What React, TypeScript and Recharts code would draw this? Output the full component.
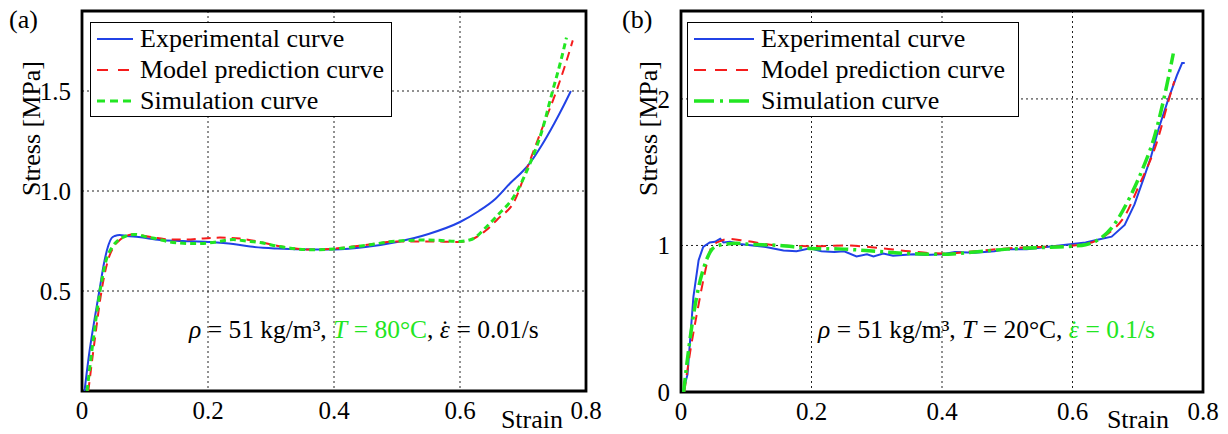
import { LineChart, Line, XAxis, YAxis, CartesianGrid, ReferenceArea, Legend } from 'recharts';

const FONT = "'Liberation Serif', 'Times New Roman', serif";
const BLUE = '#2142e6';
const RED = '#f51c1c';
const GREEN = '#22e622';

const STRAIN_TICKS = [0, 0.2, 0.4, 0.6, 0.8];
const A_STRESS_TICKS = [0.5, 1.0, 1.5];
const B_STRESS_TICKS = [0, 1, 2];

// (a) T = 80°C, 0.01/s
const A_EXP_X = [0.004, 0.012, 0.02, 0.0275, 0.035, 0.042, 0.047, 0.052, 0.06, 0.071, 0.09, 0.124, 0.16, 0.2, 0.24, 0.267, 0.31, 0.367, 0.4, 0.45, 0.5, 0.55, 0.6, 0.63, 0.656, 0.68, 0.7, 0.711, 0.73, 0.75, 0.765, 0.776];
const A_EXP_Y = [0, 0.2, 0.36, 0.5, 0.64, 0.73, 0.765, 0.775, 0.78, 0.775, 0.77, 0.755, 0.75, 0.745, 0.735, 0.722, 0.712, 0.707, 0.708, 0.72, 0.745, 0.785, 0.845, 0.9, 0.96, 1.04, 1.1, 1.14, 1.23, 1.34, 1.43, 1.5];

const A_MOD_X = [0.01, 0.02, 0.031, 0.04, 0.05, 0.06, 0.07, 0.084, 0.1, 0.12, 0.14, 0.166, 0.193, 0.219, 0.251, 0.283, 0.314, 0.367, 0.4, 0.45, 0.5, 0.55, 0.6, 0.62, 0.64, 0.66, 0.687, 0.706, 0.73, 0.753, 0.766, 0.779];
const A_MOD_Y = [0, 0.25, 0.5, 0.64, 0.72, 0.755, 0.775, 0.785, 0.775, 0.765, 0.757, 0.757, 0.763, 0.767, 0.762, 0.745, 0.724, 0.707, 0.712, 0.73, 0.748, 0.748, 0.745, 0.76, 0.8, 0.86, 0.953, 1.11, 1.31, 1.5, 1.62, 1.753];

const A_SIM_X = [0.008, 0.018, 0.0286, 0.038, 0.048, 0.058, 0.07, 0.084, 0.1, 0.12, 0.14, 0.176, 0.2, 0.24, 0.261, 0.283, 0.314, 0.367, 0.4, 0.45, 0.5, 0.55, 0.6, 0.62, 0.64, 0.66, 0.685, 0.711, 0.73, 0.747, 0.76, 0.769];
const A_SIM_Y = [0, 0.26, 0.5, 0.65, 0.72, 0.755, 0.775, 0.783, 0.772, 0.76, 0.745, 0.737, 0.74, 0.757, 0.75, 0.742, 0.722, 0.706, 0.71, 0.728, 0.75, 0.755, 0.748, 0.76, 0.815, 0.88, 0.97, 1.137, 1.3, 1.5, 1.65, 1.767];

// (b) T = 20°C, 0.1/s
const B_EXP_X = [0.003, 0.01, 0.019, 0.027, 0.034, 0.044, 0.052, 0.06, 0.065, 0.075, 0.09, 0.11, 0.13, 0.157, 0.177, 0.198, 0.215, 0.235, 0.25, 0.269, 0.285, 0.295, 0.31, 0.325, 0.34, 0.356, 0.375, 0.4, 0.42, 0.45, 0.48, 0.5, 0.53, 0.56, 0.6, 0.62, 0.64, 0.66, 0.68, 0.695, 0.71, 0.72, 0.7315, 0.747, 0.76, 0.768, 0.772];
const B_EXP_Y = [0, 0.12, 0.65, 0.9, 0.99, 1.02, 1.025, 1.045, 1.02, 1.025, 1.01, 1.0, 0.99, 0.965, 0.96, 0.98, 0.96, 0.955, 0.96, 0.925, 0.94, 0.925, 0.945, 0.93, 0.935, 0.94, 0.935, 0.94, 0.955, 0.95, 0.96, 0.975, 0.975, 0.99, 1.01, 1.02, 1.04, 1.06, 1.14, 1.28, 1.47, 1.6, 1.79, 2.0, 2.16, 2.245, 2.245];

const B_MOD_X = [0.005, 0.015, 0.025, 0.035, 0.047, 0.06, 0.075, 0.1, 0.15, 0.2, 0.25, 0.3, 0.35, 0.4, 0.45, 0.5, 0.55, 0.6, 0.62, 0.64, 0.66, 0.68, 0.701, 0.729, 0.748, 0.756];
const B_MOD_Y = [0, 0.3, 0.55, 0.78, 0.99, 1.03, 1.045, 1.03, 1.0, 0.995, 1.0, 0.985, 0.96, 0.945, 0.96, 0.98, 0.99, 1.0, 1.01, 1.04, 1.1, 1.2, 1.4, 1.7, 2.0, 2.12];

const B_SIM_X = [0.004, 0.012, 0.024, 0.035, 0.052, 0.07, 0.085, 0.1, 0.15, 0.2, 0.25, 0.3, 0.35, 0.4, 0.45, 0.5, 0.55, 0.6, 0.62, 0.64, 0.66, 0.688, 0.71, 0.724, 0.74, 0.7545];
const B_SIM_Y = [0, 0.3, 0.65, 0.85, 0.99, 1.01, 1.015, 1.01, 1.0, 0.98, 0.975, 0.96, 0.945, 0.94, 0.955, 0.975, 0.985, 0.995, 1.005, 1.04, 1.12, 1.33, 1.55, 1.72, 2.0, 2.31];

const LEGEND_LABELS = ['Experimental curve', 'Model prediction curve', 'Simulation curve'];

const pts = (xs: number[], ys: number[]) => xs.map((x, i) => ({ x, y: ys[i] }));

type Style = { color: string; width: number; dash?: string };

interface PanelProps {
  left: number;
  width: number;
  margin: { top: number; right: number; bottom: number; left: number };
  yAxisWidth: number;
  yTop: number;
  yTicks: number[];
  yFmt: (v: number) => string;
  series: { data: { x: number; y: number }[]; style: Style; type: 'monotone' | 'linear' }[];
  legend: { left: number; width: number; sample: number; styles: Style[] };
}

function Panel({ left, width, margin, yAxisWidth, yTop, yTicks, yFmt, series, legend }: PanelProps) {
  const tickStyle = { fontSize: 25, fill: '#000', fontFamily: FONT };
  const renderLegend = () => (
    <div
      style={{
        border: '1px solid #000',
        background: '#fff',
        width: legend.width,
        height: 95,
        boxSizing: 'border-box',
        paddingLeft: 6,
        fontFamily: FONT,
        fontSize: 26,
        color: '#000',
      }}
    >
      {LEGEND_LABELS.map((label, i) => {
        const s = legend.styles[i];
        return (
          <div key={label} style={{ display: 'flex', alignItems: 'center', height: 31, whiteSpace: 'nowrap' }}>
            <svg width={legend.sample} height={8} style={{ flex: 'none' }}>
              <line x1={0} y1={4} x2={legend.sample} y2={4} stroke={s.color} strokeWidth={s.width} strokeDasharray={s.dash} />
            </svg>
            <span style={{ marginLeft: 7 }}>{label}</span>
          </div>
        );
      })}
    </div>
  );

  return (
    <div style={{ position: 'absolute', left, top: 0 }}>
      <LineChart width={width} height={434} margin={margin}>
        <CartesianGrid stroke="#222" strokeDasharray="2 3" strokeWidth={1} />
        <XAxis
          dataKey="x"
          type="number"
          domain={[0, 0.8]}
          ticks={STRAIN_TICKS}
          interval={0}
          tickFormatter={(v: number) => (v === 0 ? '0' : v.toFixed(1))}
          tickLine={false}
          axisLine={false}
          height={36}
          tickMargin={4}
          tick={tickStyle}
          allowDataOverflow
        />
        <YAxis
          type="number"
          domain={[0, yTop]}
          ticks={yTicks}
          interval={0}
          tickFormatter={yFmt}
          tickLine={false}
          axisLine={false}
          width={yAxisWidth}
          tickMargin={5}
          tick={tickStyle}
          allowDataOverflow
        />
        {series.map((s, i) => (
          <Line
            key={i}
            data={s.data}
            dataKey="y"
            type={s.type}
            stroke={s.style.color}
            strokeWidth={s.style.width}
            strokeDasharray={s.style.dash}
            dot={false}
            activeDot={false}
            isAnimationActive={false}
            legendType="none"
          />
        ))}
        <ReferenceArea x1={0} x2={0.8} y1={0} y2={yTop} fill="none" stroke="#000" strokeWidth={2.8} ifOverflow="visible" />
        <Legend
          content={renderLegend}
          layout="vertical"
          verticalAlign="middle"
          align="center"
          wrapperStyle={{ left: legend.left, top: 22, width: legend.width }}
        />
      </LineChart>
    </div>
  );
}

const A_STYLES: Style[] = [
  { color: BLUE, width: 2 },
  { color: RED, width: 2, dash: '9 6' },
  { color: GREEN, width: 3, dash: '6 4' },
];
const A_LEGEND_STYLES: Style[] = [
  { color: BLUE, width: 2 },
  { color: RED, width: 2, dash: '11 10' },
  { color: GREEN, width: 3, dash: '8 5' },
];
const B_STYLES: Style[] = [
  { color: BLUE, width: 2 },
  { color: RED, width: 2, dash: '10 7' },
  { color: GREEN, width: 3.5, dash: '14 5 3 5' },
];
const B_LEGEND_STYLES: Style[] = [
  { color: BLUE, width: 2 },
  { color: RED, width: 2, dash: '12 9' },
  { color: GREEN, width: 3.5, dash: '20 6 3 6' },
];

export default function App() {
  return (
    <div style={{ position: 'absolute', left: 0, top: 0, width: 1228, height: 434, background: '#fff', overflow: 'hidden' }}>
      <Panel
        left={0}
        width={614}
        margin={{ top: 11, right: 28, bottom: 7, left: 12 }}
        yAxisWidth={70}
        yTop={1.9}
        yTicks={A_STRESS_TICKS}
        yFmt={(v) => v.toFixed(1)}
        series={[
          { data: pts(A_EXP_X, A_EXP_Y), style: A_STYLES[0], type: 'monotone' },
          { data: pts(A_MOD_X, A_MOD_Y), style: A_STYLES[1], type: 'monotone' },
          { data: pts(A_SIM_X, A_SIM_Y), style: A_STYLES[2], type: 'monotone' },
        ]}
        legend={{ left: 90, width: 302, sample: 36, styles: A_LEGEND_STYLES }}
      />
      <Panel
        left={600}
        width={628}
        margin={{ top: 11, right: 25, bottom: 6, left: 41 }}
        yAxisWidth={40}
        yTop={2.6}
        yTicks={B_STRESS_TICKS}
        yFmt={(v) => String(v)}
        series={[
          { data: pts(B_EXP_X, B_EXP_Y), style: B_STYLES[0], type: 'linear' },
          { data: pts(B_MOD_X, B_MOD_Y), style: B_STYLES[1], type: 'monotone' },
          { data: pts(B_SIM_X, B_SIM_Y), style: B_STYLES[2], type: 'monotone' },
        ]}
        legend={{ left: 87, width: 332, sample: 60, styles: B_LEGEND_STYLES }}
      />
      <svg width={1228} height={434} style={{ position: 'absolute', left: 0, top: 0, pointerEvents: 'none' }} fontFamily={FONT} fontSize={26}>
        <text x={9} y={28}>(a)</text>
        <text x={622} y={28}>(b)</text>
        <text x={40} y={61} textAnchor="end" transform="rotate(-90 40 61)">Stress [MPa]</text>
        <text x={657} y={61} textAnchor="end" transform="rotate(-90 657 61)">Stress [MPa]</text>
        <text x={563} y={428} textAnchor="end">Strain</text>
        <text x={1169} y={428} textAnchor="end">Strain</text>
        <text x={189} y={338} fontSize={25.5}>
          <tspan fontStyle="italic">ρ</tspan>
          <tspan> = 51 kg/m³, </tspan>
          <tspan fill={GREEN}>
            <tspan fontStyle="italic">T</tspan> = 80°C
          </tspan>
          <tspan>, </tspan>
          <tspan fontStyle="italic">ε</tspan>
          <tspan dx="-0.36em">˙</tspan>
          <tspan dx="0.03em"> = 0.01/s</tspan>
        </text>
        <text x={818} y={338} fontSize={25.5}>
          <tspan fontStyle="italic">ρ</tspan>
          <tspan> = 51 kg/m³, </tspan>
          <tspan fontStyle="italic">T</tspan>
          <tspan> = 20°C, </tspan>
          <tspan fill={GREEN}>
            <tspan fontStyle="italic">ε</tspan>
            <tspan dx="-0.36em">˙</tspan>
            <tspan dx="0.03em"> = 0.1/s</tspan>
          </tspan>
        </text>
      </svg>
    </div>
  );
}
